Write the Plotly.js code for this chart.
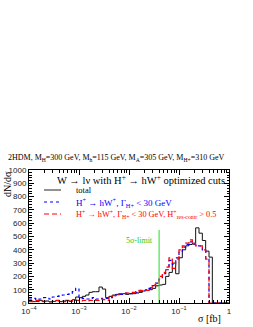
<!DOCTYPE html>
<html><head><meta charset="utf-8">
<script src="https://cdn.plot.ly/plotly-3.0.1.min.js"></script>
<style>html,body{margin:0;padding:0;background:#fff}#chart{width:253px;height:327px}</style>
</head><body><div id="chart"></div>
<script>
// Binning: 60 log-spaced bins from 1e-4 to 1 fb
var logMin = -4, logMax = 0, nBins = 60;
// total
var totalVals = [15,10,12,20,10,15,8,12,18,10,15,20,12,25,45,
  40,50,60,80,85,85,120,105,40,
  50,60,65,65,70,65,70,70,75,80,90,95,100,110,130,135,140,
  200,230,300,220,340,400,430,440,450,565,525,470,390,345,
  0,0,0,0,0];
// H+ -> hW+, Gamma < 30 GeV
var blueVals = [30,35,25,30,40,35,30,45,50,55,60,65,75,85,110,
  40,35,30,35,40,30,35,30,35,
  40,55,60,65,70,75,70,
  75,80,90,95,100,110,130,150,180,220,
  250,320,290,340,380,420,440,460,440,430,430,400,330,
  0,0,0,0,0,0];
// H+ -> hW+, Gamma < 30 GeV, res-contr > 0.5
var redVals = [10,15,20,10,15,12,10,15,20,15,10,20,15,25,20,
  15,20,15,20,25,20,30,25,20,
  45,55,60,70,70,75,75,
  80,85,95,100,95,115,140,130,200,230,
  270,340,260,330,400,430,450,475,445,430,430,400,330,
  0,0,0,0,0,0];
var limitX = 0.04, limitTop = 550;
var xTickVals = [1e-4, 1e-3, 1e-2, 1e-1, 1];
var xTickText = ['10<sup>−4</sup>','10<sup>−3</sup>','10<sup>−2</sup>','10<sup>−1</sup>','1'];
var legendNames = ['total',
  'H<sup>+</sup> → hW<sup>+</sup>, Γ<sub>H+</sub> < 30 GeV',
  'H<sup>+</sup> → hW<sup>+</sup>, Γ<sub>H+</sub> < 30 GeV, H<sup>+</sup><sub>res-contr</sub> > 0.5'];

var edges = [];
for (var i = 0; i <= nBins; i++) edges.push(Math.pow(10, logMin + (logMax - logMin) * i / nBins));
function stepY(v){ return v.concat([0]); }

var serif = 'Liberation Serif, Times New Roman, serif';
var sans = 'Liberation Sans, Arial, sans-serif';

var traces = [
  {x: edges, y: stepY(totalVals), mode:'lines', line:{shape:'hv', color:'#111', width:1}, showlegend:false, hoverinfo:'skip'},
  {x: edges, y: stepY(blueVals), mode:'lines', line:{shape:'hv', color:'#0000ff', width:1.2, dash:'dot'}, showlegend:false, hoverinfo:'skip'},
  {x: edges, y: stepY(redVals), mode:'lines', line:{shape:'hv', color:'#ff0000', width:1.2, dash:'5px,3px'}, showlegend:false, hoverinfo:'skip'},
  {x: [limitX, limitX], y: [0, limitTop], mode:'lines', line:{color:'#22dd22', width:1}, showlegend:false, hoverinfo:'skip'}
];

var layout = {
  width: 253, height: 327,
  margin: {l: 29, r: 24, t: 170, b: 24, pad: 0},
  paper_bgcolor: '#fff', plot_bgcolor: '#fff',
  xaxis: {type:'log', range:[logMin, logMax], tickvals: xTickVals, ticktext: xTickText,
    ticks:'inside', ticklen:5, tickcolor:'#000', showgrid:false, zeroline:false,
    showline:true, linecolor:'#000', linewidth:1, mirror:'allticks',
    tickfont:{family:sans, size:8, color:'#222'},
    minor:{ticks:'inside', ticklen:3, tickcolor:'#000', showgrid:false,
      tickvals:[2e-4,3e-4,4e-4,5e-4,6e-4,7e-4,8e-4,9e-4,2e-3,3e-3,4e-3,5e-3,6e-3,7e-3,8e-3,9e-3,2e-2,3e-2,4e-2,5e-2,6e-2,7e-2,8e-2,9e-2,0.2,0.3,0.4,0.5,0.6,0.7,0.8,0.9]}},
  yaxis: {range:[0, 1000], dtick:100, ticks:'inside', ticklen:5, tickcolor:'#000',
    showgrid:false, zeroline:false, showline:true, linecolor:'#000', linewidth:1, mirror:'allticks',
    tickfont:{family:sans, size:8, color:'#222'},
    minor:{dtick:20, ticks:'inside', ticklen:2.5, tickcolor:'#000', showgrid:false}},
  shapes: [
    {type:'line', xref:'paper', yref:'paper', x0:15/200, x1:32/200, y0:(303-190)/133, y1:(303-190)/133, line:{color:'#777', width:1.6}},
    {type:'line', xref:'paper', yref:'paper', x0:15/200, x1:32/200, y0:(303-202)/133, y1:(303-202)/133, line:{color:'#0000ff', width:1.2, dash:'dot'}},
    {type:'line', xref:'paper', yref:'paper', x0:15/200, x1:32/200, y0:(303-214)/133, y1:(303-214)/133, line:{color:'#ff0000', width:1.2, dash:'5px,3px'}}
  ],
  annotations: [
    {text:'2HDM, M<sub>H</sub>=300 GeV, M<sub>h</sub>=115 GeV, M<sub>A</sub>=305 GeV, M<sub>H+</sub>=310 GeV',
     xref:'paper', yref:'paper', x:(6-29)/200, y:(303-158)/133, xanchor:'left', yanchor:'middle',
     showarrow:false, font:{family:serif, size:8, color:'#000'}},
    {text:'W → lν with H<sup>+</sup> → hW<sup>+</sup> optimized cuts',
     xref:'paper', yref:'paper', x:(227-29)/200, y:(303-179)/133, xanchor:'right', yanchor:'middle',
     showarrow:false, font:{family:serif, size:10.5, color:'#000'}},
    {text:legendNames[0], xref:'paper', yref:'paper', x:(74-29)/200, y:(303-190)/133, xanchor:'left', yanchor:'middle',
     showarrow:false, font:{family:serif, size:8.5, color:'#000'}},
    {text:legendNames[1], xref:'paper', yref:'paper', x:(74-29)/200, y:(303-202)/133, xanchor:'left', yanchor:'middle',
     showarrow:false, font:{family:serif, size:9, color:'#0000ff'}},
    {text:legendNames[2], xref:'paper', yref:'paper', x:(74-29)/200, y:(303-214)/133, xanchor:'left', yanchor:'middle',
     showarrow:false, font:{family:serif, size:8.3, color:'#ff0000'}},
    {text:'5σ-limit', xref:'paper', yref:'paper', x:(139-29)/200, y:(303-240)/133, xanchor:'center', yanchor:'middle',
     showarrow:false, font:{family:serif, size:8, color:'#22cc22'}},
    {text:'dN/dσ', xref:'paper', yref:'paper', x:(7-29)/200, y:(303-184)/133, xanchor:'center', yanchor:'middle',
     textangle:-90, showarrow:false, font:{family:serif, size:10, color:'#000'}},
    {text:'σ [fb]', xref:'paper', yref:'paper', x:(223-29)/200, y:(303-318)/133, xanchor:'right', yanchor:'middle',
     showarrow:false, font:{family:serif, size:10, color:'#000'}}
  ]
};
Plotly.newPlot('chart', traces, layout, {staticPlot:true, displayModeBar:false});
</script></body></html>
